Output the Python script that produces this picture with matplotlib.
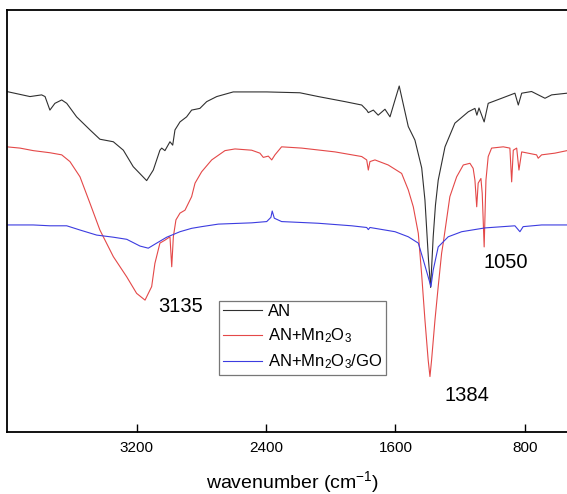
import matplotlib
matplotlib.use("Agg")
import matplotlib.pyplot as plt

plt.rcParams['font.family'] = ['Liberation Sans', 'DejaVu Sans']
plt.rcParams['mathtext.fontset'] = 'custom'
plt.rcParams['mathtext.rm'] = 'Liberation Sans'
plt.rcParams['mathtext.it'] = 'Liberation Sans:italic'

# ---- data (wavenumber cm^-1, transmittance a.u.) ----
an_wn = [4003, 3859, 3787, 3766, 3736, 3705, 3663, 3632, 3571, 3488, 3427, 3344, 3282, 3221,
         3138, 3097, 3056, 3045, 3025, 2994, 2977, 2963, 2932, 2891, 2860, 2809, 2767, 2705,
         2603, 2396, 2191, 2077, 1912, 1809, 1778, 1768, 1737, 1707, 1665, 1634, 1603, 1577,
         1552, 1521, 1480, 1438, 1418, 1407, 1396, 1383, 1367, 1353, 1336, 1294, 1233, 1150,
         1109, 1097, 1084, 1052, 1027, 944, 862, 841, 820, 759, 676, 635, 540]
an_t = [80.7, 79.5, 79.9, 79.5, 76.3, 77.9, 78.7, 77.9, 74.7, 71.6, 69.4, 68.8, 66.8, 62.9,
        59.6, 62.1, 66.8, 67.3, 66.7, 68.8, 68.0, 71.6, 73.5, 74.7, 76.3, 76.7, 78.3, 79.5,
        80.6, 80.6, 80.4, 79.5, 78.3, 77.5, 76.3, 75.7, 76.3, 75.1, 76.5, 74.7, 78.7, 82.0,
        77.7, 72.4, 69.2, 62.6, 55.0, 47.9, 40.8, 34.3, 46.3, 53.8, 59.7, 67.6, 73.2, 75.9,
        76.7, 75.1, 76.8, 73.5, 77.9, 79.1, 80.3, 77.5, 80.3, 80.7, 79.1, 79.9, 80.3]

mn_wn = [4003, 3921, 3839, 3736, 3663, 3612, 3550, 3488, 3427, 3344, 3261, 3200, 3148, 3107,
         3087, 3056, 3025, 2994, 2983, 2973, 2957, 2932, 2901, 2860, 2839, 2798, 2736, 2654,
         2592, 2489, 2438, 2417, 2386, 2365, 2345, 2304, 2180, 1974, 1809, 1778, 1768, 1758,
         1727, 1645, 1562, 1521, 1490, 1459, 1438, 1418, 1398, 1387, 1377, 1356, 1336, 1315,
         1305, 1264, 1222, 1181, 1140, 1120, 1109, 1098, 1089, 1072, 1064, 1052, 1041, 1027,
         1006, 934, 893, 882, 872, 851, 837, 820, 728, 718, 697, 615, 540]
mn_t = [67.6, 67.3, 66.7, 66.2, 65.7, 64.1, 60.5, 54.2, 47.9, 41.6, 36.8, 32.9, 31.3, 34.5,
        40.0, 44.8, 45.5, 46.3, 39.2, 46.3, 50.3, 51.9, 52.6, 55.8, 59.0, 61.7, 64.5, 66.7,
        67.1, 66.8, 66.1, 65.1, 65.4, 64.5, 65.7, 67.6, 67.3, 66.4, 65.3, 64.5, 62.1, 64.1,
        64.5, 63.3, 61.3, 57.4, 53.4, 47.1, 37.2, 26.6, 17.1, 13.2, 17.1, 26.6, 34.5, 42.4,
        44.8, 55.8, 60.5, 63.3, 63.7, 62.5, 59.7, 53.4, 59.0, 60.1, 56.6, 43.9, 59.7, 65.3,
        67.3, 67.6, 67.3, 59.3, 66.8, 67.3, 62.1, 66.4, 65.7, 64.9, 65.7, 66.1, 66.7]

go_wn = [4003, 3839, 3736, 3632, 3550, 3447, 3344, 3261, 3179, 3128, 3076, 3014, 2932, 2860,
         2798, 2695, 2489, 2396, 2370, 2362, 2349, 2304, 2077, 1871, 1778, 1768, 1758, 1727,
         1603, 1521, 1459, 1428, 1398, 1381, 1367, 1336, 1274, 1191, 1047, 862, 831, 811, 697, 540]
go_t = [49.1, 49.1, 48.9, 48.9, 47.9, 46.7, 46.2, 45.7, 44.1, 43.6, 44.8, 46.2, 47.5, 48.3,
        48.7, 49.3, 49.6, 49.9, 50.9, 52.4, 50.7, 49.9, 49.5, 48.9, 48.5, 48.0, 48.5, 48.3,
        47.5, 46.3, 44.8, 40.8, 36.8, 34.5, 38.4, 43.9, 46.3, 47.5, 48.4, 48.9, 47.5, 48.7, 49.1, 49.1]

labels = ['AN', r'AN+Mn$_2$O$_3$', r'AN+Mn$_2$O$_3$/GO']
tick_vals = [3200, 2400, 1600, 800]
peak_labels = ['3135', '1050', '1384']
peak_pos = [(2926, 29.7), (917, 40.3), (1158, 8.8)]

W, H = 567, 494
fig = plt.figure(figsize=(W / 100, H / 100), dpi=100)
ax = fig.add_axes([6.7 / W, 1 - 432.3 / H, (W - 6.7) / W, (432.3 - 10) / H])

ax.plot(an_wn, an_t, color='#303030', lw=0.8, label=labels[0])
ax.plot(mn_wn, mn_t, color='#e44848', lw=0.8, label=labels[1])
ax.plot(go_wn, go_t, color='#3c3ce0', lw=0.8, label=labels[2])

ax.set_xlim(4003, 540)
ax.set_ylim(0, 100)
ax.set_xticks(tick_vals)
ax.set_xticklabels([str(v) for v in tick_vals])
ax.set_yticks([])
ax.tick_params(axis='x', direction='in', length=6, width=1, pad=6.5, labelsize=11)
for s in ['left', 'bottom', 'top']:
    ax.spines[s].set_linewidth(1.3)
ax.spines['right'].set_visible(False)

xl = ax.set_xlabel(r'wavenumber (cm$^{-1}$)', fontsize=14)
xl.set_va('center')
ax.xaxis.set_label_coords(0.511, -0.117)

for txt, (xw, yt) in zip(peak_labels, peak_pos):
    ax.text(xw, yt, txt, fontsize=14.5, ha='center', va='center')

leg = fig.legend(loc='upper left', bbox_to_anchor=(219.3 / W, 1 - 300.7 / H),
                 bbox_transform=fig.transFigure, borderaxespad=0, fontsize=12,
                 handlelength=2.35, handletextpad=0.36, borderpad=0.2, labelspacing=0.45,
                 fancybox=False, framealpha=1, edgecolor='#777777')
leg.get_frame().set_linewidth(0.9)

fig.savefig('out.png', dpi=100)
